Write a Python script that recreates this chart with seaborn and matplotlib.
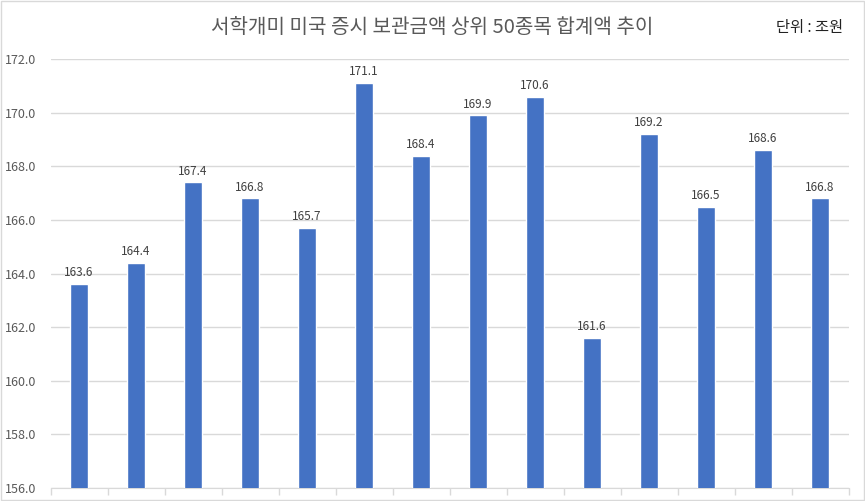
import numpy as np
import pandas as pd
import matplotlib
matplotlib.use('Agg')
import matplotlib.pyplot as plt
import seaborn as sns

# values (unit: 조원); x labels are cut off in the reference
periods = [str(i) for i in range(1, 15)]
totals = [163.6, 164.4, 167.4, 166.8, 165.7, 171.1, 168.4,
          169.9, 170.6, 161.6, 169.2, 166.5, 168.6, 166.8]
y_ticks = [156.0, 158.0, 160.0, 162.0, 164.0, 166.0, 168.0, 170.0, 172.0]

sns.set_style('white')
plt.rcParams['font.family'] = ['Noto Sans CJK KR', 'DejaVu Sans']

df = pd.DataFrame({'period': periods, 'total': totals})

fig = plt.figure(figsize=(8.65, 5.01), dpi=100)
ax = fig.add_axes([0.0584, 0.026, 0.9226, 0.856])

sns.barplot(data=df, x='period', y='total', color='#4472C4', width=0.32,
            saturation=1, ax=ax, zorder=3)

ax.set_ylim(156, 172)
ax.set_xlim(-0.5, len(periods) - 0.5)
ax.set_yticks(y_ticks)
ax.set_yticklabels(['%.1f' % v for v in y_ticks], color='#595959', fontsize=9)
ax.yaxis.grid(True, color='#d9d9d9', lw=1, zorder=0)
ax.tick_params(axis='y', length=0, pad=10)

ax.set_xticks(np.arange(len(periods)))
ax.set_xticklabels([])
ax.tick_params(axis='x', which='major', length=0)
ax.set_xticks(np.arange(-0.5, len(periods)), minor=True)
ax.tick_params(axis='x', which='minor', length=5, color='#d9d9d9', width=1,
               direction='out', bottom=True)
ax.set_xlabel('')
ax.set_ylabel('')

for s in ['top', 'right', 'left']:
    ax.spines[s].set_visible(False)
ax.spines['bottom'].set_color('#d9d9d9')

for i, v in enumerate(totals):
    ax.text(i, v + 0.18, '%.1f' % v, ha='center', va='bottom',
            fontsize=8.5, color='#404040')

fig.text(0.5, 0.946, '서학개미 미국 증시 보관금액 상위 50종목 합계액 추이',
         ha='center', va='center', fontsize=14.5, color='#595959')
fig.text(0.936, 0.946, '단위 : 조원', ha='center', va='center',
         fontsize=11, color='#222222')

fig.patches.append(plt.Rectangle((0.001, 0.001), 0.998, 0.998,
                                 transform=fig.transFigure, fill=False,
                                 edgecolor='#d9d9d9', lw=1))

fig.savefig('out.png', dpi=100)
